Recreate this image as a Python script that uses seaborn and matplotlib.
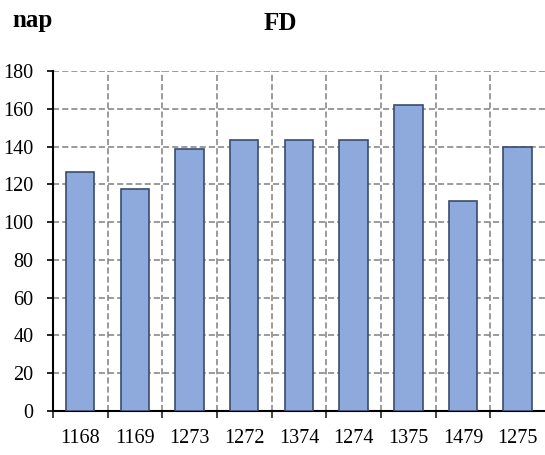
import seaborn as sns
import matplotlib.pyplot as plt
import pandas as pd
import numpy as np

# chart data
categories = ["1168", "1169", "1273", "1272", "1374", "1274", "1375", "1479", "1275"]
values = [126.5, 117.5, 138.5, 143.5, 143.5, 143.5, 162.0, 111.0, 140.0]
y_ticks = [0, 20, 40, 60, 80, 100, 120, 140, 160, 180]

df = pd.DataFrame({"cat": categories, "val": values})

sns.set_theme(style="white")
plt.rcParams['font.family'] = ['Liberation Serif', 'DejaVu Serif']

fig = plt.figure(figsize=(5.45, 4.55), dpi=100)
ax = fig.add_axes([0.097, 0.097, 0.903, 0.747])

sns.barplot(data=df, x="cat", y="val", order=categories, color="#8EA9DB",
            edgecolor="#3A4C6C", linewidth=1.2, width=0.52, saturation=1,
            ax=ax, zorder=3)

ax.set_xlim(-0.5, len(categories) - 0.5)
ax.set_ylim(0, 180)
ax.set_yticks(y_ticks)
ax.set_xlabel("")
ax.set_ylabel("")

# boundaries between categories carry the tick marks and vertical grid
ax.set_xticks(np.arange(-0.5, len(categories) - 0.5, 1), minor=True)
ax.tick_params(axis="x", which="major", length=0, labelsize=14.5, pad=13, colors="black")
ax.tick_params(axis="x", which="minor", length=5, width=1.2, direction="out", bottom=True)
ax.tick_params(axis="y", length=4, width=1.2, direction="out", left=True,
               labelsize=14.5, pad=10, colors="black")

ax.grid(axis="y", which="major", color="#808080", linestyle=(0, (4, 2)), linewidth=1.1, zorder=0)
ax.grid(axis="x", which="minor", color="#808080", linestyle=(0, (4, 2)), linewidth=1.1, zorder=0)
ax.grid(axis="x", which="major", visible=False)
ax.set_axisbelow(True)

for s in ["top", "right"]:
    ax.spines[s].set_visible(False)
for s in ["left", "bottom"]:
    ax.spines[s].set_color("black")
    ax.spines[s].set_linewidth(1.5)

fig.text(0.514, 0.948, "FD", ha="center", va="center", fontsize=18,
         fontweight="bold", color="black")
fig.text(0.022, 0.955, "nap", ha="left", va="center", fontsize=18,
         fontweight="bold", color="black")

fig.savefig("out.png", dpi=100)
